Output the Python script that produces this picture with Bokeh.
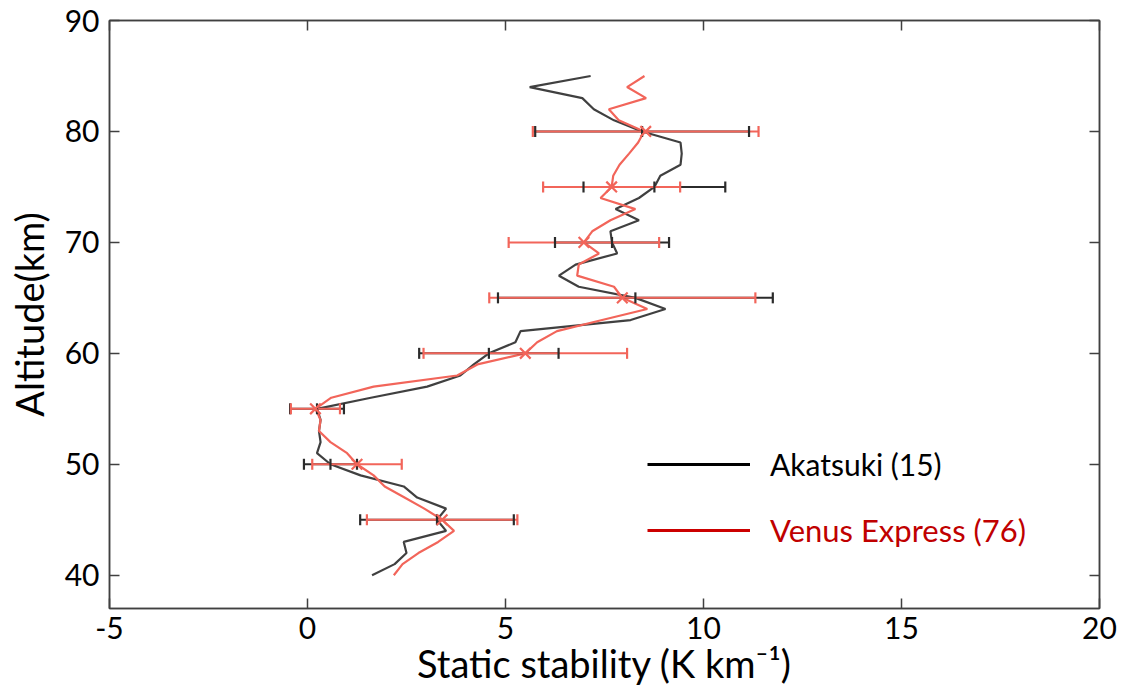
import numpy as np
from bokeh.plotting import figure
from bokeh.models import (ColumnDataSource, FixedTicker, LinearAxis, Range1d,
                          Legend, LegendItem)
from bokeh.embed import file_html
from bokeh.resources import INLINE

# ---------------- data ----------------
altitude = list(range(40, 86))
akatsuki = [1.63, 2.2, 2.5, 2.43, 3.5, 3.27, 3.5, 2.77, 2.43, 1.34,
            0.58, 0.24, 0.33, 0.29, 0.33, 0.24, 1.6, 3.02, 3.86, 4.2,
            4.58, 5.25, 5.38, 8.16, 9.04, 8.28, 6.85, 6.35, 6.77, 7.82,
            7.69, 7.65, 8.37, 7.78, 8.37, 8.76, 8.91, 9.42, 9.45, 9.42,
            8.45, 7.74, 7.23, 6.94, 5.61, 7.15]
venus_express = [2.18, 2.4, 2.8, 3.3, 3.7, 3.4, 2.95, 2.45, 1.95, 1.67,
                 1.25, 1.0, 0.58, 0.29, 0.33, 0.2, 0.6, 1.67, 3.78, 4.29,
                 5.5, 5.8, 6.3, 7.44, 8.58, 7.95, 7.74, 6.81, 6.85, 7.36,
                 6.98, 7.19, 7.65, 8.28, 7.4, 7.68, 7.72, 7.88, 8.12, 8.35,
                 8.5, 7.86, 7.61, 8.55, 8.07, 8.51]

err_altitude = [45, 50, 55, 60, 65, 70, 75, 80]
akatsuki_mean = [3.27, 0.58, 0.24, 4.58, 8.28, 7.69, 8.76, 8.45]
akatsuki_err = [1.94, 0.67, 0.68, 1.76, 3.47, 1.44, 1.79, 2.7]
vex_mean = [3.4, 1.25, 0.2, 5.5, 7.95, 6.98, 7.68, 8.54]
vex_err = [1.9, 1.13, 0.62, 2.57, 3.36, 1.9, 1.73, 2.85]

x_ticks = [-5, 0, 5, 10, 15, 20]
x_tick_labels = {-5: "-5", 0: "0", 5: "5", 10: "10", 15: "15", 20: "20"}
y_ticks = [40, 50, 60, 70, 80, 90]

label_akatsuki = "Akatsuki (15)"
label_vex = "Venus Express (76)"

# ---------------- styles ----------------
FONT = "Lato"
BLACK = "#2b2b2b"
RED = "#f2655a"
AXIS = "#404040"

p = figure(frame_width=990, frame_height=588,
           min_border_left=109, min_border_right=22,
           min_border_top=20, min_border_bottom=87,
           x_range=Range1d(-5, 20), y_range=Range1d(37, 90),
           output_backend="svg", toolbar_location=None,
           background_fill_color="white", border_fill_color="white")

p.xgrid.visible = False
p.ygrid.visible = False
p.outline_line_color = AXIS
p.outline_line_width = 1.5

for ax in (p.xaxis[0], p.yaxis[0]):
    ax.axis_line_color = AXIS
    ax.axis_line_width = 1.5
    ax.major_tick_line_color = AXIS
    ax.major_tick_line_width = 1.5
    ax.major_tick_in = 10
    ax.major_tick_out = 0
    ax.minor_tick_line_color = None
    ax.major_label_text_font = FONT
    ax.major_label_text_font_size = "30px"
    ax.major_label_text_color = "black"
    ax.axis_label_text_font = FONT
    ax.axis_label_text_font_size = "38px"
    ax.axis_label_text_font_style = "normal"
    ax.axis_label_text_color = "black"

p.xaxis[0].ticker = FixedTicker(ticks=x_ticks)
p.xaxis[0].major_label_overrides = x_tick_labels
p.yaxis[0].ticker = FixedTicker(ticks=y_ticks)
p.xaxis[0].axis_label = "Static stability (K km\u207b\u00b9)"
p.yaxis[0].axis_label = "Altitude(km)"
p.xaxis[0].major_label_standoff = 8
p.yaxis[0].major_label_standoff = 10
p.xaxis[0].axis_label_standoff = -2
p.yaxis[0].axis_label_standoff = 10

# mirrored ticks on top and right
top = LinearAxis(ticker=FixedTicker(ticks=x_ticks))
right = LinearAxis(ticker=FixedTicker(ticks=y_ticks))
for ax in (top, right):
    ax.axis_line_color = AXIS
    ax.axis_line_width = 1.5
    ax.major_tick_line_color = AXIS
    ax.major_tick_line_width = 1.5
    ax.major_tick_in = 10
    ax.major_tick_out = 0
    ax.minor_tick_line_color = None
    ax.major_label_text_font_size = "0px"
    ax.major_label_standoff = 0
p.add_layout(top, "above")
p.add_layout(right, "right")

# ---------------- profiles ----------------
prof = ColumnDataSource(dict(alt=altitude, ak=akatsuki, vex=venus_express))
p.line("ak", "alt", source=prof, line_color=BLACK, line_width=2.2, line_alpha=0.9)
p.line("vex", "alt", source=prof, line_color=RED, line_width=2.2)

# ---------------- error bars ----------------
ak_m = np.array(akatsuki_mean)
ak_e = np.array(akatsuki_err)
vx_m = np.array(vex_mean)
vx_e = np.array(vex_err)
eb = ColumnDataSource(dict(
    alt=err_altitude,
    ak=ak_m, ak_lo=ak_m - ak_e, ak_hi=ak_m + ak_e,
    vx=vx_m, vx_lo=vx_m - vx_e, vx_hi=vx_m + vx_e,
))
p.segment(x0="ak_lo", x1="ak_hi", y0="alt", y1="alt", source=eb,
          line_color=BLACK, line_width=2)
p.segment(x0="vx_lo", x1="vx_hi", y0="alt", y1="alt", source=eb,
          line_color=RED, line_width=2)
for col in ("ak_lo", "ak_hi", "ak"):
    p.scatter(col, "alt", source=eb, marker="dash", angle=np.pi / 2,
              size=11, line_color=BLACK, line_width=2.2)
for col in ("vx_lo", "vx_hi"):
    p.scatter(col, "alt", source=eb, marker="dash", angle=np.pi / 2,
              size=11, line_color=RED, line_width=2.2)
p.scatter("vx", "alt", source=eb, marker="x", size=15,
          line_color=RED, line_width=2.2)

# ---------------- legend ----------------
leg_ak = p.line([np.nan], [np.nan], line_color="black", line_width=3)
leg_vx = p.line([np.nan], [np.nan], line_color="#cc0000", line_width=3)

def make_legend(rend, text, color, loc, size):
    lg = Legend(items=[LegendItem(label=text, renderers=[rend], index=0)],
                location=loc, orientation="vertical",
                glyph_width=103, glyph_height=30, label_height=30,
                label_standoff=20, padding=0, margin=0, spacing=0,
                border_line_alpha=0, background_fill_alpha=0,
                label_text_font=FONT, label_text_font_size=size,
                label_text_color=color)
    p.add_layout(lg, "center")

make_legend(leg_ak, label_akatsuki, "black", (538, 126), "30px")
make_legend(leg_vx, label_vex, "#c00000", (538, 59), "31px")

open("out.html", "w").write(file_html(p, INLINE))
